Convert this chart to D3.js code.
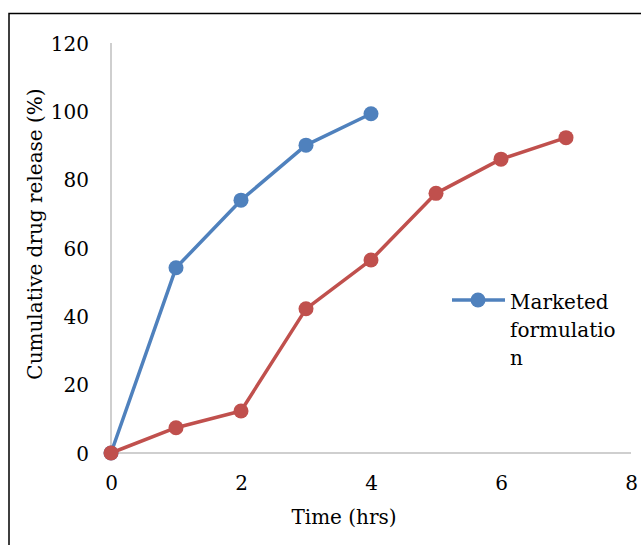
<!DOCTYPE html>
<html>
<head>
<meta charset="utf-8">
<script src="https://cdn.jsdelivr.net/npm/d3@7"></script>
<style>
  html, body { margin: 0; padding: 0; background: #fff; }
  svg { display: block; }
  text { font-family: "DejaVu Serif", "Liberation Serif", serif; fill: #000; }
</style>
</head>
<body>
<svg id="chart" width="641" height="545"></svg>
<script>
// Dissolution profile: cumulative drug release over time
const marketedTime = [0, 1, 2, 3, 4];
const marketedRelease = [0, 54.2, 74.0, 90.1, 99.3];
const testTime = [0, 1, 2, 3, 4, 5, 6, 7];
const testRelease = [0, 7.4, 12.3, 42.2, 56.5, 76.0, 86.0, 92.3];
const xTicks = [0, 2, 4, 6, 8];
const yTicks = [0, 20, 40, 60, 80, 100, 120];
const legendLines = ["Marketed", "formulatio", "n"];

const FONT = "DejaVu Serif, Liberation Serif, serif";
const svg = d3.select("#chart");

// outer frame (runs off the right and bottom edges)
svg.append("path")
  .attr("d", "M9,545 L9,13.5 L641,13.5")
  .attr("fill", "none")
  .attr("stroke", "#000")
  .attr("stroke-width", 1.5);

const x = d3.scaleLinear().domain([0, 8]).range([111, 631]);
const y = d3.scaleLinear().domain([0, 120]).range([453, 43]);

// axis lines
svg.append("line")
  .attr("x1", x(0)).attr("x2", x(0)).attr("y1", y(120)).attr("y2", y(0))
  .attr("stroke", "#bfbfbf").attr("stroke-width", 1.5);
svg.append("line")
  .attr("x1", x(0)).attr("x2", x(8)).attr("y1", y(0)).attr("y2", y(0))
  .attr("stroke", "#bfbfbf").attr("stroke-width", 1.5);

// tick labels
const yAxis = d3.axisLeft(y).tickValues(yTicks).tickSize(0).tickPadding(0);
const gy = svg.append("g").attr("transform", `translate(${x(0) - 22},0)`).call(yAxis);
gy.select(".domain").remove();
gy.selectAll("text").style("font-size", "20px").attr("dy", "0.35em")
  .attr("font-family", FONT);

const xAxis = d3.axisBottom(x).tickValues(xTicks).tickSize(0).tickPadding(0);
const gx = svg.append("g").attr("transform", `translate(0,${y(0) + 22})`).call(xAxis);
gx.select(".domain").remove();
gx.selectAll("text").style("font-size", "20px").attr("dy", "0.75em")
  .attr("font-family", FONT);

// axis titles
svg.append("text")
  .attr("x", 344).attr("y", 524)
  .attr("text-anchor", "middle")
  .style("font-size", "20px")
  .text("Time (hrs)");
svg.append("text")
  .attr("transform", "translate(42,234) rotate(-90)")
  .attr("text-anchor", "middle")
  .style("font-size", "20px")
  .text("Cumulative drug release (%)");

// series
const series = [
  { name: "Marketed formulation", color: "#4f81bd", t: marketedTime, v: marketedRelease },
  { name: "Test formulation", color: "#c0504d", t: testTime, v: testRelease }
];
const line = d3.line().x(d => x(d[0])).y(d => y(d[1]));

series.forEach(s => {
  const pts = s.t.map((t, i) => [t, s.v[i]]);
  svg.append("path")
    .datum(pts)
    .attr("d", line)
    .attr("fill", "none")
    .attr("stroke", s.color)
    .attr("stroke-width", 3.5)
    .attr("stroke-linejoin", "round");
  svg.append("g").selectAll("circle")
    .data(pts)
    .join("circle")
    .attr("cx", d => x(d[0]))
    .attr("cy", d => y(d[1]))
    .attr("r", 7.5)
    .attr("fill", s.color);
});

// legend
const lg = svg.append("g");
lg.append("line")
  .attr("x1", 452).attr("x2", 505).attr("y1", 300).attr("y2", 300)
  .attr("stroke", series[0].color).attr("stroke-width", 3.5);
lg.append("circle").attr("cx", 478).attr("cy", 300).attr("r", 7.5).attr("fill", series[0].color);
lg.selectAll("text.leg")
  .data(legendLines)
  .join("text")
  .attr("class", "leg")
  .attr("x", 510)
  .attr("y", (d, i) => 309 + i * 28)
  .style("font-size", "20px")
  .text(d => d);
</script>
</body>
</html>
